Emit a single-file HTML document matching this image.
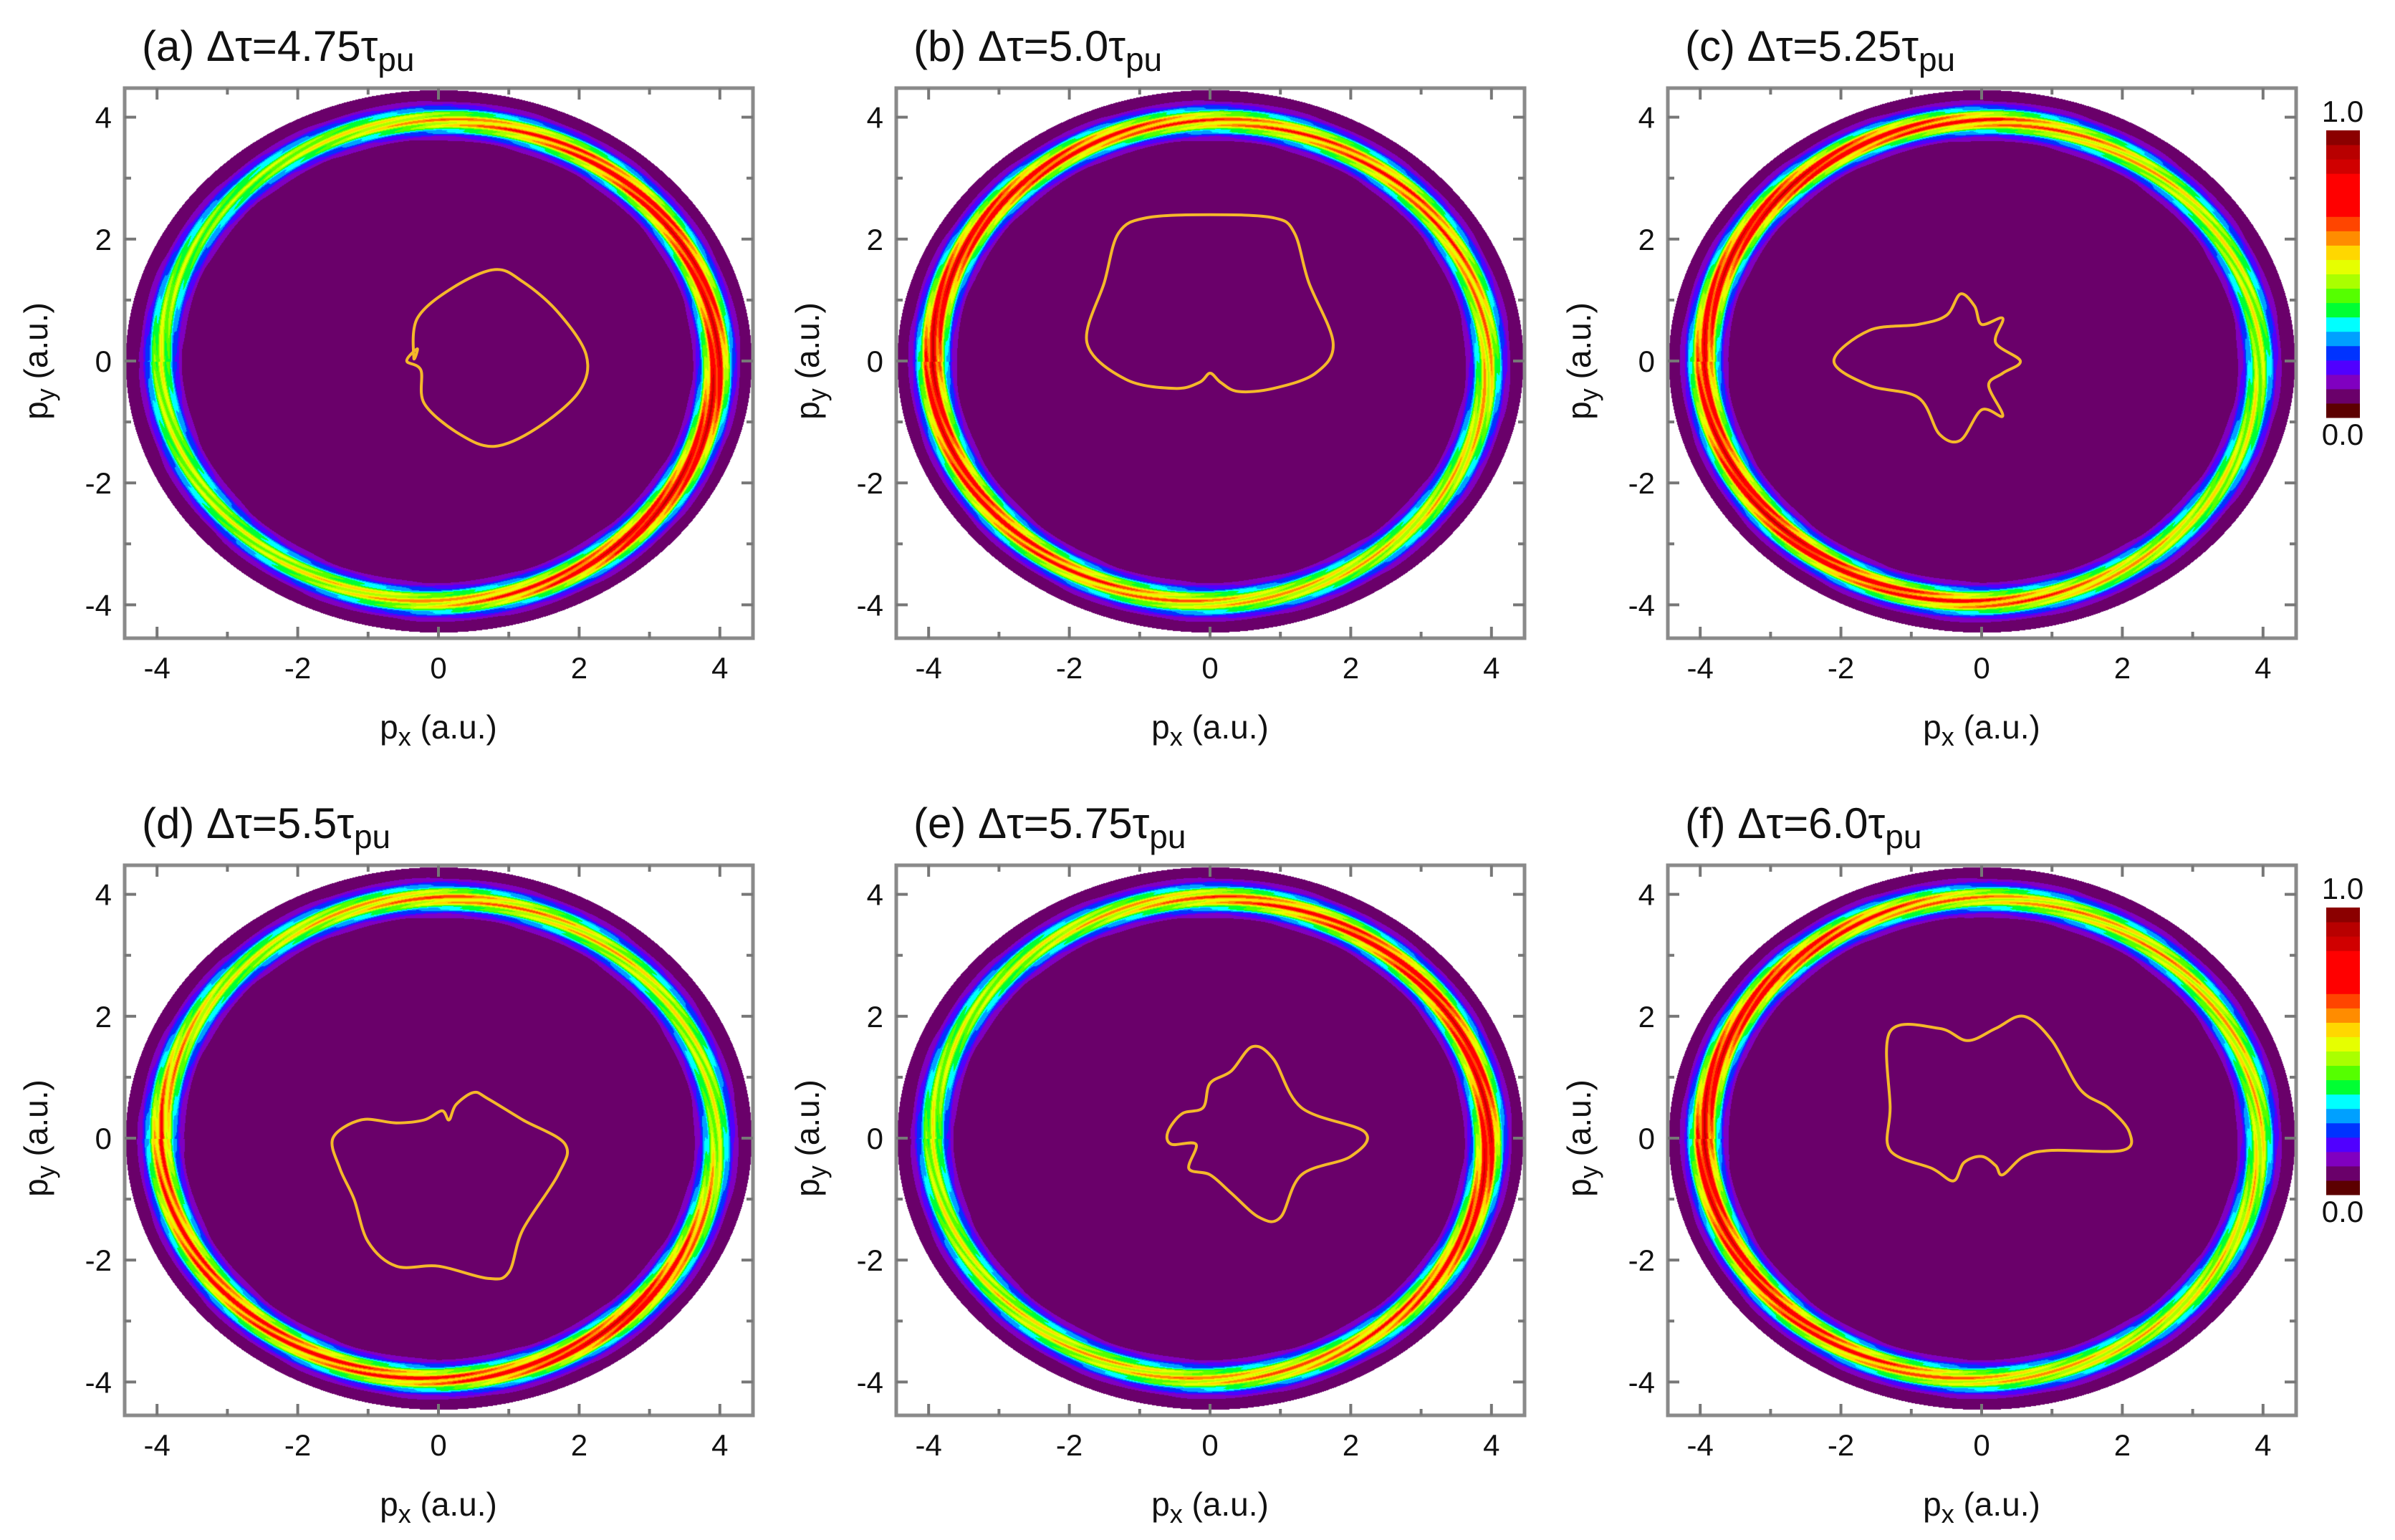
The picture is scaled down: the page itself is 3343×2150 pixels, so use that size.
<!DOCTYPE html>
<html><head><meta charset="utf-8">
<style>
html,body{margin:0;padding:0;background:#fff;}
#root{position:relative;width:3343px;height:2150px;overflow:hidden;background:#fff;font-family:"Liberation Sans",sans-serif;}
canvas{position:absolute;}
svg{position:absolute;left:0;top:0;}
</style></head>
<body>
<div id="root">
<svg id="ov" width="3343" height="2150"></svg>
</div>
<script>
// ---- data ----
const panelLabels = ["(a) Δτ=4.75", "(b) Δτ=5.0", "(c) Δτ=5.25", "(d) Δτ=5.5", "(e) Δτ=5.75", "(f) Δτ=6.0"];
const xTicks = [-4, -2, 0, 2, 4];
const yTicks = [-4, -2, 0, 2, 4];
const ringAngles = [0, 45, 90, 135, 180, 225, 270, 315];
const ringAmpA = [0.85, 0.8, 0.6, 0.45, 0.5, 0.5, 0.6, 0.85];
const ringAmpB = [0.6, 0.7, 0.65, 0.8, 0.85, 0.75, 0.6, 0.55];
const ringAmpC = [0.5, 0.55, 0.7, 0.85, 0.8, 0.85, 0.7, 0.55];
const ringAmpD = [0.5, 0.55, 0.65, 0.5, 0.7, 0.75, 0.7, 0.85];
const ringAmpE = [0.85, 0.8, 0.65, 0.5, 0.5, 0.55, 0.6, 0.7];
const ringAmpF = [0.55, 0.6, 0.6, 0.8, 0.85, 0.8, 0.6, 0.55];
const contourA = [[-0.35,0.05],[-0.3,0.7],[0.2,1.2],[0.8,1.5],[1.2,1.3],[1.7,0.8],[2.1,0.1],[2.0,-0.5],[1.4,-1.1],[0.8,-1.4],[0.3,-1.2],[-0.2,-0.7],[-0.25,-0.15],[-0.45,0],[-0.3,0.2]];
const contourB = [[-0.9,2.35],[0,2.4],[0.9,2.35],[1.2,2.1],[1.4,1.3],[1.75,0.3],[1.5,-0.2],[0.9,-0.45],[0.4,-0.5],[0.15,-0.35],[0,-0.2],[-0.15,-0.35],[-0.5,-0.45],[-1.2,-0.3],[-1.75,0.3],[-1.5,1.3],[-1.3,2.1]];
const contourC = [[-2.1,0],[-1.6,0.5],[-0.9,0.6],[-0.5,0.75],[-0.3,1.1],[-0.1,0.9],[0.0,0.6],[0.3,0.7],[0.2,0.3],[0.55,0.0],[0.3,-0.2],[0.1,-0.4],[0.3,-0.9],[0.0,-0.8],[-0.3,-1.3],[-0.6,-1.2],[-0.9,-0.6],[-1.6,-0.4]];
const contourD = [[-1.5,0.0],[-1.1,0.3],[-0.6,0.25],[-0.2,0.3],[0.05,0.45],[0.15,0.3],[0.25,0.55],[0.5,0.75],[0.7,0.65],[1.2,0.3],[1.8,-0.1],[1.7,-0.6],[1.2,-1.5],[1.0,-2.2],[0.7,-2.3],[0.0,-2.1],[-0.6,-2.1],[-1.0,-1.7],[-1.2,-1.0],[-1.4,-0.5]];
const contourE = [[-0.6,0.1],[-0.4,0.4],[-0.1,0.5],[0.0,0.9],[0.3,1.1],[0.6,1.5],[0.9,1.3],[1.3,0.5],[2.2,0.1],[2.0,-0.3],[1.3,-0.6],[1.0,-1.3],[0.7,-1.3],[0.3,-0.9],[0.0,-0.6],[-0.3,-0.5],[-0.2,-0.1],[-0.55,-0.1]];
const contourF = [[-1.3,1.75],[-0.6,1.8],[-0.2,1.6],[0.2,1.8],[0.6,2.0],[1.0,1.6],[1.4,0.8],[1.8,0.5],[2.1,0.1],[2.0,-0.2],[1.0,-0.2],[0.6,-0.3],[0.3,-0.6],[0.2,-0.45],[0.0,-0.3],[-0.25,-0.4],[-0.4,-0.7],[-0.7,-0.5],[-1.3,-0.2],[-1.3,0.5]];
const cbarTicks = ["0.0", "1.0"];
const cmap = ["#5c0000","#6a006a","#8000c0","#5000ff","#0033ff","#00a0ff","#00ffff","#00ff33","#55ff00","#aaff00","#e6ff00","#ffd700","#ff8c00","#ff4500","#ff0000","#ff0000","#ff0000","#d00000","#b80000","#8b0000"];
// ---- layout ----
const ringAmps = [ringAmpA, ringAmpB, ringAmpC, ringAmpD, ringAmpE, ringAmpF];
const contours = [contourA, contourB, contourC, contourD, contourE, contourF];
const FW = 877, FH = 768, SX = 98.2, SY = 85.1, X0 = 438, Y0 = 381;
const root = document.getElementById('root');
const ov = document.getElementById('ov');
const NS = 'http://www.w3.org/2000/svg';
function mk(tag, attrs, parent) {
  const e = document.createElementNS(NS, tag);
  for (const k in attrs) e.setAttribute(k, attrs[k]);
  (parent || ov).appendChild(e);
  return e;
}
const rgb = cmap.map(h => [parseInt(h.slice(1,3),16), parseInt(h.slice(3,5),16), parseInt(h.slice(5,7),16)]);
function ampAt(arr, deg) {
  deg = (deg + 360) % 360;
  const i = Math.floor(deg / 45), f = (deg - i * 45) / 45;
  return arr[i] * (1 - f) + arr[(i + 1) % arr.length] * f;
}
function smoothPath(pts, sx, sy) {
  const P = pts.map(p => [sx(p[0]), sy(p[1])]);
  const n = P.length;
  let d = 'M' + P[0][0].toFixed(1) + ',' + P[0][1].toFixed(1);
  for (let i = 0; i < n; i++) {
    const p0 = P[(i - 1 + n) % n], p1 = P[i], p2 = P[(i + 1) % n], p3 = P[(i + 2) % n];
    const c1 = [p1[0] + (p2[0] - p0[0]) / 6, p1[1] + (p2[1] - p0[1]) / 6];
    const c2 = [p2[0] - (p3[0] - p1[0]) / 6, p2[1] - (p3[1] - p1[1]) / 6];
    d += 'C' + c1.map(v=>v.toFixed(1)).join(',') + ' ' + c2.map(v=>v.toFixed(1)).join(',') + ' ' + p2.map(v=>v.toFixed(1)).join(',');
  }
  return d + 'Z';
}
for (let p = 0; p < 6; p++) {
  const col = p % 3, row = Math.floor(p / 3);
  const L = 174 + 1077 * col, T = 123 + 1085 * row;
  const sx = v => L + X0 + v * SX, sy = v => T + Y0 - v * SY;
  const cv = document.createElement('canvas');
  cv.width = FW; cv.height = FH;
  cv.style.left = L + 'px'; cv.style.top = T + 'px';
  
  
  root.insertBefore(cv, ov);
  const ctx = cv.getContext('2d');
  const img = ctx.createImageData(FW, FH);
  const amps = ringAmps[p];
  for (let j = 0; j < FH; j++) {
    const y = (Y0 - j) / SY;
    for (let i = 0; i < FW; i++) {
      const x = (i - X0) / SX;
      const r = Math.sqrt(x * x + y * y);
      const k = (j * FW + i) * 4;
      if (r > 4.45) { img.data[k]=255; img.data[k+1]=255; img.data[k+2]=255; img.data[k+3]=255; continue; }
      let v = 0.06;
      if (r > 3.6) {
        const deg = Math.atan2(y, x) * 180 / Math.PI;
        const A = ampAt(amps, deg);
        const bump = Math.exp(-Math.pow((r - 3.95) / 0.2, 2));
        const fr = 0.86 + 0.14 * Math.cos(r * 55 + deg * 0.3);
        v = 0.06 + A * bump * fr;
      }
      let idx = Math.min(19, Math.max(1, Math.floor(v * 20)));
      const c = rgb[idx];
      img.data[k]=c[0]; img.data[k+1]=c[1]; img.data[k+2]=c[2]; img.data[k+3]=255;
    }
  }
  ctx.putImageData(img, 0, 0);
  const ct = mk('path', {d: smoothPath(contours[p], sx, sy), fill:'none', stroke:'#f5b82a', 'stroke-width':4});
  
  
  const fr = mk('rect', {x:L, y:T, width:FW, height:FH, fill:'none', stroke:'#8a8a8a', 'stroke-width':5});
  
  
  for (let t = -4; t <= 4; t++) {
    const len = (t % 2 === 0) ? 16 : 9;
    mk('line', {x1:sx(t), x2:sx(t), y1:T+FH, y2:T+FH-len, stroke:'#777', 'stroke-width':4});
    mk('line', {x1:sx(t), x2:sx(t), y1:T, y2:T+len, stroke:'#777', 'stroke-width':4});
    mk('line', {x1:L, x2:L+len, y1:sy(t), y2:sy(t), stroke:'#777', 'stroke-width':4});
    mk('line', {x1:L+FW, x2:L+FW-len, y1:sy(t), y2:sy(t), stroke:'#777', 'stroke-width':4});
  }
  xTicks.forEach(t => {
    const tx = mk('text', {x:sx(t), y:T+FH+56, 'text-anchor':'middle', 'font-size':42, fill:'#111'});
    tx.textContent = t;
    
    
  });
  yTicks.forEach(t => {
    const tx = mk('text', {x:L-18, y:sy(t)+15, 'text-anchor':'end', 'font-size':42, fill:'#111'});
    tx.textContent = t;
    
    
  });
  const xt = mk('text', {x:L+X0, y:T+FH+140, 'text-anchor':'middle', 'font-size':46, fill:'#111'});
  xt.innerHTML = 'p<tspan dy="10" font-size="36">x</tspan><tspan dy="-10"> (a.u.)</tspan>';
  
  
  const yt = mk('text', {x:0, y:0, 'text-anchor':'middle', 'font-size':46, fill:'#111', transform:'translate(' + (L-108) + ',' + (T+Y0) + ') rotate(-90)'});
  yt.innerHTML = 'p<tspan dy="10" font-size="36">y</tspan><tspan dy="-10"> (a.u.)</tspan>';
  
  
  const tt = mk('text', {x:L+24, y:T-38, 'font-size':60, fill:'#111'});
  tt.innerHTML = panelLabels[p] + 'τ<tspan dy="14" font-size="46">pu</tspan>';
  
  
}
for (let r = 0; r < 2; r++) {
  const top = 182 + 1085 * r, bot = 583 + 1085 * r, h = (bot - top) / cmap.length;
  const g = mk('g', {});
  
  
  cmap.forEach((c, i) => {
    mk('rect', {x:3247, y:bot - (i + 1) * h, width:47, height:h + 0.5, fill:c}, g);
  });
  const t1 = mk('text', {x:3270, y:top - 12, 'text-anchor':'middle', 'font-size':42, fill:'#111'});
  t1.textContent = cbarTicks[1];
  
  
  const t0 = mk('text', {x:3270, y:bot + 38, 'text-anchor':'middle', 'font-size':42, fill:'#111'});
  t0.textContent = cbarTicks[0];
  
  
}
</script>
</body></html>
